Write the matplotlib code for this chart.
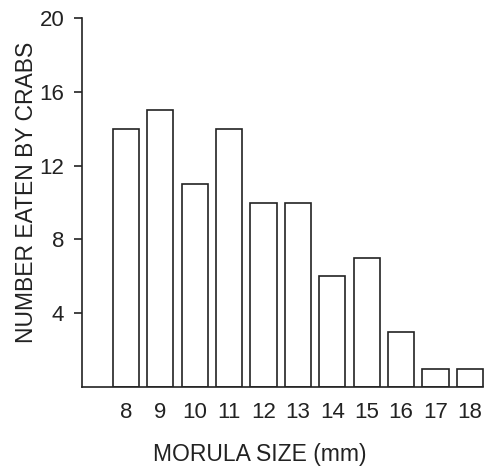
import matplotlib
matplotlib.use("Agg")
import matplotlib.pyplot as plt

sizes = [8, 9, 10, 11, 12, 13, 14, 15, 16, 17, 18]
eaten = [14, 15, 11, 14, 10, 10, 6, 7, 3, 1, 1]
yticks = [4, 8, 12, 16, 20]
xlabel = "MORULA SIZE (mm)"
ylabel = "NUMBER EATEN BY CRABS"

plt.rcParams['font.family'] = ['Liberation Sans', 'DejaVu Sans']
ink = "#222222"
fig = plt.figure(figsize=(4.86, 4.71), dpi=100)
ax = fig.add_axes([82/486, 84/471, 1 - 82/486, (387-18)/471])
width = 0.76
ax.bar(sizes, eaten, width=width, facecolor="white", edgecolor=ink, linewidth=1.2)
ax.set_xlim(6.72, 18.47)
ax.set_ylim(0, 20)
for s in ["top", "right", "bottom"]:
    ax.spines[s].set_visible(False)
ax.spines["left"].set_color(ink)
ax.spines["left"].set_linewidth(1.2)
ax.plot([6.72, sizes[-1] + width/2], [0, 0], color=ink, lw=1.2, clip_on=False)
ax.set_yticks(yticks)
ax.set_yticklabels([str(t) for t in yticks])
ax.set_xticks(sizes)
ax.set_xticklabels([str(s) for s in sizes])
ax.tick_params(axis="y", length=5.8, width=1.2, color=ink, labelsize=16, labelcolor=ink, pad=7)
ax.tick_params(axis="x", length=0, labelsize=16, labelcolor=ink, pad=10.5)
ax.set_xlabel(xlabel, fontsize=16.5, color=ink)
ax.set_ylabel(ylabel, fontsize=16.5, color=ink)
ax.xaxis.set_label_coords((260-82)/404, (387-443)/369)
ax.yaxis.set_label_coords((38-82)/404, (387-192)/369)
fig.savefig("out.png", dpi=100)
